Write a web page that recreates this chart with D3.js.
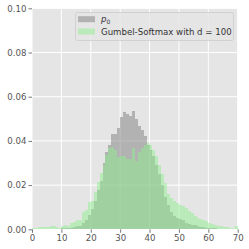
<!DOCTYPE html>
<html>
<head>
<meta charset="utf-8">
<script src="https://cdn.jsdelivr.net/npm/d3@7"></script>
<style>
html,body{margin:0;padding:0;background:#fff;}
svg{display:block;font-family:"DejaVu Sans",sans-serif;}
</style>
</head>
<body>
<svg id="chart" width="249" height="249"></svg>
<script>
// bins: left edges 0..69, width 1
const binEdges = d3.range(0, 70);
const p0Values = [
  0.0002,0.0002,0.0002,0.0002,0.0002,0.0002,0.0002,0.0002,0.0002,0.0002,
  0.0004,0.0004,0.0004,0.0005,0.001,0.0015,0.0015,0.0027,0.004,0.0065,
  0.009,0.013,0.018,0.022,0.030,0.035,0.038,0.043,0.043,0.0457,
  0.0507,0.0532,0.052,0.0513,0.0537,0.050,0.0467,0.045,0.042,0.038,
  0.036,0.033,0.029,0.025,0.020,0.0145,0.011,0.008,0.006,0.005,
  0.0045,0.004,0.003,0.0025,0.002,0.0018,0.0015,0.0012,0.001,0.0008,
  0.0006,0.0004,0.0004,0.0003,0.0003,0.0003,0.0003,0.0003,0.0003,0.0003
];
const gumbelValues = [
  0.0007,0.0008,0.001,0.0012,0.0012,0.001,0.0015,0.0015,0.0012,0.0008,
  0.0015,0.0018,0.0015,0.003,0.0035,0.004,0.004,0.008,0.0087,0.0125,
  0.013,0.017,0.0215,0.0255,0.029,0.0336,0.037,0.0372,0.0358,0.0329,
  0.033,0.033,0.032,0.032,0.0366,0.031,0.035,0.037,0.038,0.039,
  0.038,0.036,0.033,0.029,0.025,0.021,0.016,0.014,0.013,0.012,
  0.011,0.0105,0.0095,0.0085,0.0075,0.006,0.005,0.0045,0.0042,0.0038,
  0.003,0.0025,0.002,0.0015,0.0013,0.0012,0.001,0.0008,0.0008,0.0014
];
const xTicks = [0,10,20,30,40,50,60,70];
const yTicks = [0,0.02,0.04,0.06,0.08,0.10];
const seriesLabels = ["p0", "Gumbel-Softmax with d = 100"];

const svg = d3.select("#chart");
const L = 32, R = 237.7, T = 8.3, B = 229.3;
const x = d3.scaleLinear().domain([0,70]).range([L,R]);
const y = d3.scaleLinear().domain([0,0.10]).range([B,T]);

svg.append("rect").attr("x",L).attr("y",T).attr("width",R-L).attr("height",B-T).attr("fill","#E5E5E5");

// grid
const grid = svg.append("g").attr("stroke","#ffffff").attr("stroke-width",1);
xTicks.forEach(t=>grid.append("line").attr("x1",x(t)).attr("x2",x(t)).attr("y1",T).attr("y2",B));
yTicks.forEach(t=>grid.append("line").attr("y1",y(t)).attr("y2",y(t)).attr("x1",L).attr("x2",R));

function drawHist(vals, color){
  const g = svg.append("g").attr("opacity",0.5);
  g.selectAll("rect").data(vals).join("rect")
    .attr("x",(d,i)=>x(binEdges[i]))
    .attr("width",(d,i)=>x(binEdges[i]+1)-x(binEdges[i]))
    .attr("y",d=>y(d))
    .attr("height",d=>B-y(d))
    .attr("fill",color)
    .attr("shape-rendering","crispEdges");
}
drawHist(p0Values, "#808080");
drawHist(gumbelValues, "#90EE90");

// axes
const xAxis = d3.axisBottom(x).tickValues(xTicks).tickFormat(d3.format("d")).tickSize(3.5).tickPadding(2);
const yAxis = d3.axisLeft(y).tickValues(yTicks).tickFormat(d3.format(".2f")).tickSize(3.5).tickPadding(2);
const gx = svg.append("g").attr("transform",`translate(0,${B})`).call(xAxis);
const gy = svg.append("g").attr("transform",`translate(${L},0)`).call(yAxis);
[gx,gy].forEach(g=>{
  g.select(".domain").remove();
  g.selectAll(".tick line").attr("stroke","#555555").attr("stroke-width",0.8);
  g.selectAll(".tick text").attr("fill","#555555").attr("font-size","8.6px").attr("font-family","DejaVu Sans");
});

// legend
const lg = svg.append("g");
lg.append("rect").attr("x",75.5).attr("y",12.5).attr("width",158).attr("height",28).attr("rx",2)
  .attr("fill","#E5E5E5").attr("fill-opacity",0.8).attr("stroke","#cccccc").attr("stroke-width",0.8);
const colors = ["#808080","#90EE90"];
const rowsY = [19.2, 31.5];
seriesLabels.forEach((lab,i)=>{
  lg.append("rect").attr("x",78).attr("y",rowsY[i]-3).attr("width",17).attr("height",6)
    .attr("fill",colors[i]).attr("opacity",0.5);
  const t = lg.append("text").attr("x",101).attr("y",rowsY[i]+3.1)
    .attr("font-size","8.6px").attr("fill","#333333");
  if(i===0){
    t.append("tspan").attr("font-style","italic").text("p");
    t.append("tspan").attr("font-size","6px").attr("dy",1.5).text("0");
  } else {
    t.text(lab);
  }
});
</script>
</body>
</html>
